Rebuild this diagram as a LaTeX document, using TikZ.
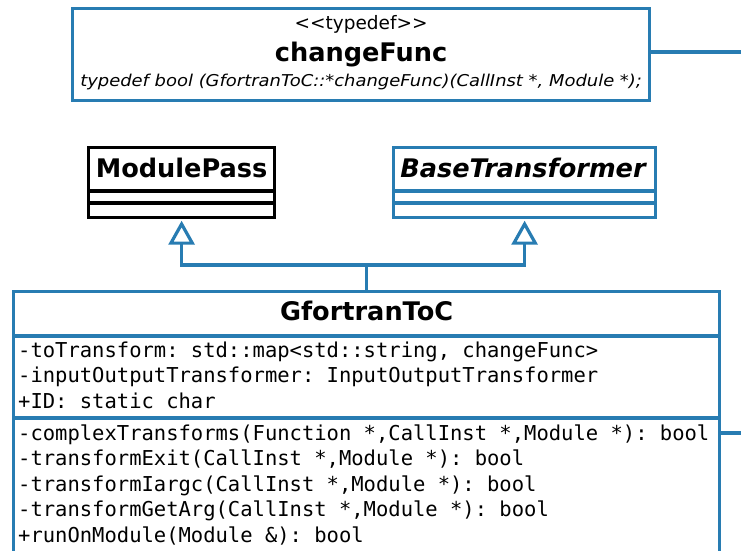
\documentclass[tikz,border=0pt]{standalone}
\usepackage{fontspec}
\setmainfont{DejaVu Sans}
\setmonofont{DejaVu Sans Mono}
\usetikzlibrary{arrows.meta}
\definecolor{umlblue}{RGB}{40,124,178}
\begin{document}
\begin{tikzpicture}[x=1pt,y=-1pt,
  umlbox/.style={draw=umlblue, line width=3.2pt, inner sep=0pt, anchor=north west},
  blackbox/.style={umlbox, draw=black},
  umlline/.style={draw=umlblue, line width=3.2pt},
  blackline/.style={draw=black, line width=3.2pt},
  inherit/.style={umlline, -{Triangle[open, length=24pt, width=26pt]}, shorten >=1.5pt},
  txt/.style={anchor=base, inner sep=0pt},
  titlefont/.style={txt, font=\fontsize{25.6}{30}\selectfont\bfseries},
  member/.style={anchor=base west, inner sep=0pt, font=\fontsize{20.5}{25}\selectfont\ttfamily},
]
\useasboundingbox (0,0) rectangle (741,551);

% typedef box
\node[umlbox, minimum width=577pt, minimum height=92pt] (cf) at (71,7) {};
\node[txt, font=\fontsize{18.5}{22}\selectfont] (cfstereo) at (cf.north |- 0,30) {<\kern0pt<typedef>\kern0pt>};
\node[titlefont] (cfname) at (cf.north |- 0,62) {changeFunc};
\node[txt, font=\fontsize{16.3}{19}\selectfont\itshape] (cfdecl) at (cf.north |- 0,86)
  {\scalebox{1.1}[1]{typedef bool (GfortranToC::*changeFunc)(CallInst *, Module *);}};
\coordinate (cfout) at (745,52);
\draw[umlline] (cf.east |- cfout) -- (cfout);

% ModulePass
\node[blackbox, minimum width=186pt, minimum height=70pt] (mp) at (87,146) {};
\node[titlefont] (mpname) at (mp.north |- 0,177) {ModulePass};
\draw[blackline] (mp.west |- 0,191) -- (mp.east |- 0,191);
\draw[blackline] (mp.west |- 0,203) -- (mp.east |- 0,203);

% BaseTransformer (abstract)
\node[txt, font=\fontsize{25.6}{30}\selectfont\bfseries\itshape] (btname) at (523,177) {BaseTransformer};
\node[umlbox, minimum width=262pt, minimum height=70pt] (bt) at (392,146) {};
\draw[umlline] (bt.west |- 0,191) -- (bt.east |- 0,191);
\draw[umlline] (bt.west |- 0,203) -- (bt.east |- 0,203);

% GfortranToC
\node[umlbox, minimum width=706pt, minimum height=280pt] (gtc) at (12,290) {};
\node[titlefont] (gtcname) at (gtc.north |- 0,320) {GfortranToC};
\draw[umlline] (gtc.west |- 0,336) -- (gtc.east |- 0,336);
\draw[umlline] (gtc.west |- 0,418) -- (gtc.east |- 0,418);
% attributes
\node[member] (a1) at (18,357) {-toTransform: std::map<std::string, changeFunc>};
\node[member] (a2) at (18,382.5) {-inputOutputTransformer: InputOutputTransformer};
\node[member] (a3) at (18,408) {+ID: static char};
% operations
\node[member] (m1) at (18,440) {-complexTransforms(Function *,CallInst *,Module *): bool};
\node[member] (m2) at (18,465.6) {-transformExit(CallInst *,Module *): bool};
\node[member] (m3) at (18,491.2) {-transformIargc(CallInst *,Module *): bool};
\node[member] (m4) at (18,516.8) {-transformGetArg(CallInst *,Module *): bool};
\node[member] (m5) at (18,542.4) {+runOnModule(Module \&): bool};
\coordinate (gtcout) at (745,433);
\draw[umlline] (gtc.east |- gtcout) -- (gtcout);

% generalisation arrows
\coordinate (j) at (gtc.north |- 0,265);
\draw[umlline] (gtc.north) -- (j);
\draw[inherit] (j) -| (mp.south);
\draw[inherit] (j) -| (bt.south);
\end{tikzpicture}
\end{document}
